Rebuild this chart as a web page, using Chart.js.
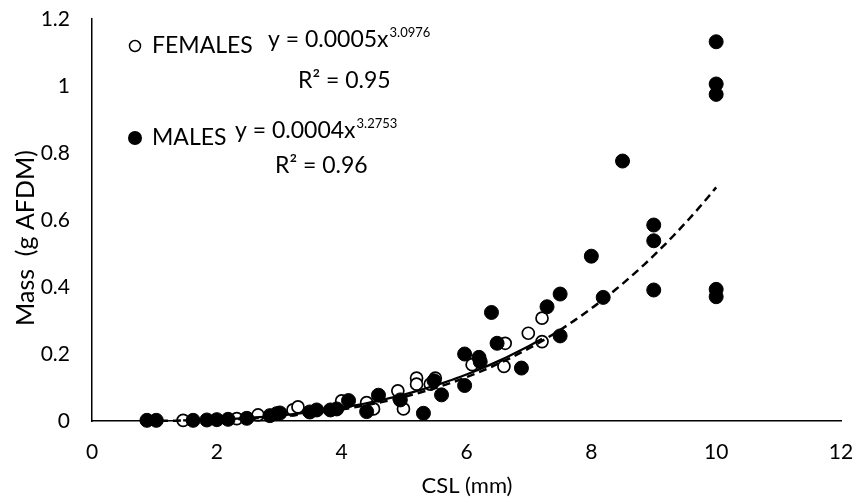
<!DOCTYPE html>
<html>
<head>
<meta charset="utf-8">
<script src="https://cdn.jsdelivr.net/npm/chart.js@4.4.0/dist/chart.umd.min.js"></script>
<style>
  html, body { margin: 0; padding: 0; background: #fff; }
  #wrap { width: 856px; height: 503px; }
</style>
</head>
<body>
<div id="wrap"><canvas id="myChart" width="856" height="503"></canvas></div>
<script>
// values (CSL in mm, mass in g AFDM)
const femaleCSL  = [1.46, 2.32, 2.66, 3.22, 3.30, 4.00, 4.40, 4.51, 4.90, 4.99, 5.20, 5.20, 5.42, 5.50, 6.09, 6.60, 6.62, 6.99, 7.21, 7.21];
const femaleMass = [0.002, 0.007, 0.018, 0.033, 0.042, 0.060, 0.055, 0.036, 0.090, 0.036, 0.128, 0.110, 0.110, 0.128, 0.168, 0.163, 0.232, 0.262, 0.307, 0.237];

const maleCSL  = [0.88, 1.03, 1.62, 1.84, 2.00, 2.18, 2.48, 2.85, 2.96, 3.01, 3.49, 3.60, 3.82, 3.92, 4.11, 4.40, 4.59, 4.94, 5.31, 5.48, 5.60,
                  5.97, 5.97, 6.20, 6.22, 6.40, 6.49, 6.88, 7.29, 7.50, 7.50, 8.00, 8.19, 8.50, 9.00, 9.00, 9.00, 10, 10, 10, 10, 10];
const maleMass = [0.002, 0.002, 0.002, 0.003, 0.004, 0.005, 0.008, 0.016, 0.022, 0.024, 0.027, 0.033, 0.033, 0.036, 0.061, 0.028, 0.077, 0.063, 0.023, 0.120, 0.078,
                  0.200, 0.106, 0.190, 0.177, 0.324, 0.232, 0.158, 0.341, 0.379, 0.254, 0.492, 0.369, 0.776, 0.585, 0.538, 0.391, 1.132, 1.006, 0.975, 0.393, 0.371];

const xTicks = [0, 2, 4, 6, 8, 10, 12];
const yTicks = [0, 0.2, 0.4, 0.6, 0.8, 1, 1.2];

// power trendlines y = a * x^b (equations printed on the chart)
const femaleFit = { a: 0.00054, b: 3.0976 };
const maleFit   = { a: 0.00037, b: 3.2753 };

function powerCurve(xs, fit) {
  const lo = Math.min(...xs), hi = Math.max(...xs);
  const pts = [];
  for (let i = 0; i <= 80; i++) {
    const x = lo + (hi - lo) * i / 80;
    pts.push({ x: x, y: fit.a * Math.pow(x, fit.b) });
  }
  return pts;
}

function toPoints(xs, ys) {
  return xs.map((x, i) => ({ x: x, y: ys[i] }));
}

const FONT = 'Lato, "Open Sans", sans-serif';

const textPlugin = {
  id: 'texts',
  afterDraw(chart) {
    const c = chart.ctx;
    c.save();
    c.fillStyle = '#000';
    c.strokeStyle = '#000';
    c.textBaseline = 'alphabetic';
    c.textAlign = 'left';

    // legend markers
    c.lineWidth = 1.5;
    c.beginPath(); c.arc(135, 46, 5.5, 0, Math.PI * 2); c.stroke();
    c.beginPath(); c.arc(135, 138, 7, 0, Math.PI * 2); c.fill();

    c.font = '23px ' + FONT;
    c.fillText('FEMALES', 152, 53);
    c.fillText('MALES', 152, 145);

    // equations
    const eq = (txt, sup, x, y) => {
      c.font = '23px ' + FONT;
      c.fillText(txt, x, y);
      const w = c.measureText(txt).width;
      c.font = '13px ' + FONT;
      c.fillText(sup, x + w + 1, y - 10);
    };
    eq('y = 0.0005x', '3.0976', 268, 47);
    eq('y = 0.0004x', '3.2753', 235, 138);
    c.font = '23px ' + FONT;
    c.fillText('R² = 0.95', 298, 88);
    c.fillText('R² = 0.96', 275, 173);

    // axis titles
    c.textAlign = 'center';
    c.textBaseline = 'middle';
    c.font = '22px ' + FONT;
    c.fillText('CSL (mm)', 467, 486);
    c.translate(26, 238);
    c.rotate(-Math.PI / 2);
    c.font = '25px ' + FONT;
    c.fillText('Mass  (g AFDM)', 0, 0);
    c.restore();
  }
};

let ctx = document.getElementById('myChart');

let myChart = new Chart(ctx, {
  type: 'scatter',
  data: {
    datasets: [{
      type: 'line',
      label: 'Males fit',
      data: powerCurve(maleCSL, maleFit),
      borderColor: '#000',
      borderWidth: 2.5,
      borderDash: [8, 5],
      pointRadius: 0,
      fill: false,
      tension: 0,
      order: 0
    }, {
      type: 'line',
      label: 'Females fit',
      data: powerCurve(femaleCSL, femaleFit),
      borderColor: '#000',
      borderWidth: 2.25,
      pointRadius: 0,
      fill: false,
      tension: 0,
      order: 1
    }, {
      label: 'MALES',
      data: toPoints(maleCSL, maleMass),
      backgroundColor: '#000',
      borderColor: '#000',
      borderWidth: 1,
      pointRadius: 7,
      order: 2
    }, {
      label: 'FEMALES',
      data: toPoints(femaleCSL, femaleMass),
      backgroundColor: '#fff',
      borderColor: '#000',
      borderWidth: 1.7,
      pointRadius: 6,
      order: 3
    }]
  },
  options: {
    responsive: false,
    animation: false,
    clip: false,
    layout: { padding: { top: 19, right: 15, left: 0, bottom: 0 } },
    plugins: {
      legend: { display: false },
      tooltip: { enabled: false }
    },
    scales: {
      x: {
        type: 'linear',
        min: 0,
        max: 12,
        afterBuildTicks: s => { s.ticks = xTicks.map(v => ({ value: v })); },
        afterFit: s => { s.height = 82; s.paddingLeft = 0; s.paddingRight = 0; },
        grid: { display: false, drawTicks: false },
        border: { display: true, color: '#000', width: 1.5 },
        ticks: { padding: 19, color: '#000', font: { family: FONT, size: 21 } }
      },
      y: {
        type: 'linear',
        min: 0,
        max: 1.2,
        afterBuildTicks: s => { s.ticks = yTicks.map(v => ({ value: v })); },
        afterFit: s => { s.width = 92; s.paddingTop = 0; s.paddingBottom = 0; },
        grid: { display: false, drawTicks: false },
        border: { display: true, color: '#000', width: 1.5 },
        ticks: {
          padding: 22,
          color: '#000',
          font: { family: FONT, size: 21 },
          callback: v => String(+v.toFixed(1))
        }
      }
    }
  },
  plugins: [textPlugin]
});
</script>
</body>
</html>
